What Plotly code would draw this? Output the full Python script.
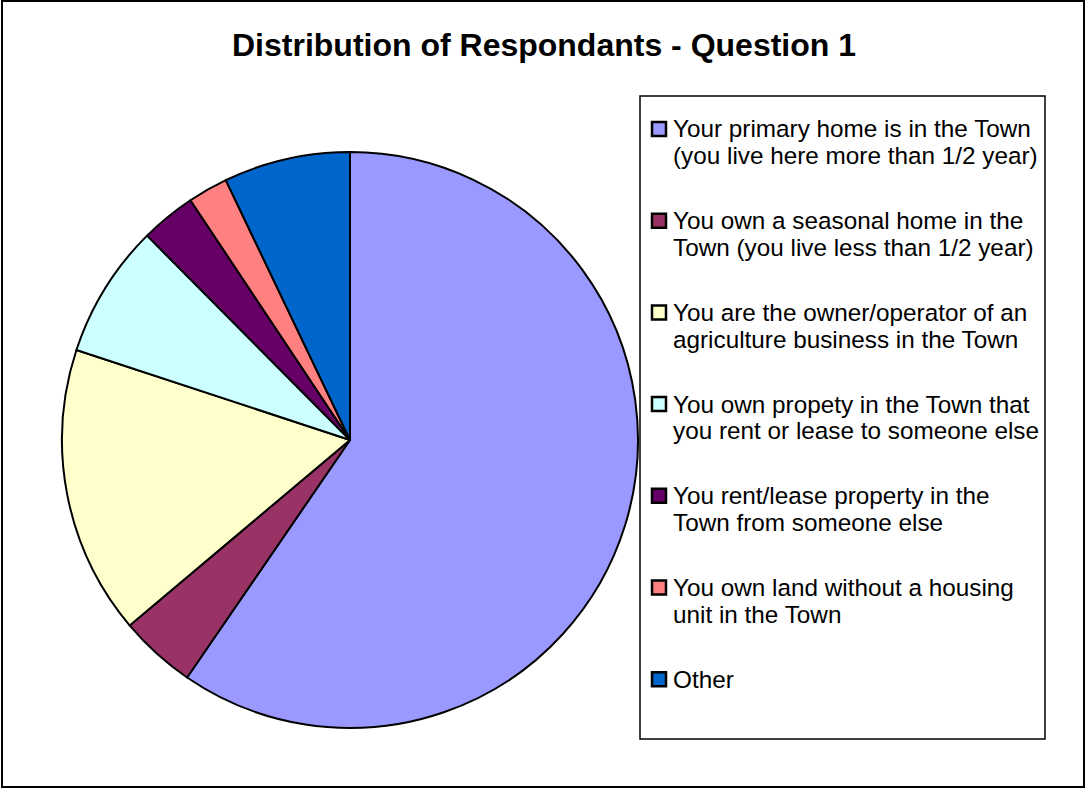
import plotly.graph_objects as go

# ---- data ----
labels = [
    "Your primary home is in the Town<br>(you live here more than 1/2 year)",
    "You own a seasonal home in the<br>Town (you live less than 1/2 year)",
    "You are the owner/operator of an<br>agriculture business in the Town",
    "You own propety in the Town that<br>you rent or lease to someone else",
    "You rent/lease property in the<br>Town from someone else",
    "You own land without a housing<br>unit in the Town",
    "Other",
]
values = [59.6, 4.3, 16.2, 7.5, 3.1, 2.25, 7.1]
colors = ["#9999FF", "#993366", "#FFFFCC", "#CCFFFF", "#660066", "#FF8080", "#0066CC"]
title_text = "Distribution of Respondants - Question 1"

W, H = 1087, 789
FONT = "Arial, Liberation Sans, sans-serif"


def px(x):
    return x / W


def py(y):
    return 1 - y / H


fig = go.Figure()
fig.add_trace(go.Pie(
    labels=[l.replace("<br>", " ") for l in labels],
    values=values,
    sort=False,
    direction="clockwise",
    rotation=0,
    marker=dict(colors=colors, line=dict(color="black", width=2)),
    textinfo="none",
    showlegend=False,
    domain=dict(x=[px(62), px(638)], y=[py(728), py(152)]),
))

shapes = []
annotations = []

# outer chart border
shapes.append(dict(type="rect", xref="paper", yref="paper",
                   x0=px(2), x1=px(1084), y0=py(787), y1=py(1),
                   line=dict(color="black", width=2), fillcolor="rgba(0,0,0,0)"))
# legend box
shapes.append(dict(type="rect", xref="paper", yref="paper",
                   x0=px(640), x1=px(1045), y0=py(739), y1=py(96),
                   line=dict(color="black", width=1.5), fillcolor="rgba(0,0,0,0)"))

entry_top = 129.0
entry_step = 91.7
line_step = 26.7
for i, (lab, col) in enumerate(zip(labels, colors)):
    yc = entry_top + i * entry_step
    shapes.append(dict(type="rect", xref="paper", yref="paper",
                       x0=px(652), x1=px(666), y0=py(yc + 7), y1=py(yc - 7),
                       line=dict(color="black", width=2.5), fillcolor=col))
    for j, part in enumerate(lab.split("<br>")):
        annotations.append(dict(
            xref="paper", yref="paper", x=px(672), y=py(yc + j * line_step),
            xanchor="left", yanchor="middle", text=part, showarrow=False,
            font=dict(family=FONT, size=24.3, color="black"), borderpad=0,
        ))

annotations.append(dict(
    xref="paper", yref="paper", x=0.5, y=py(45), xanchor="center", yanchor="middle",
    text="<b>" + title_text + "</b>", showarrow=False,
    font=dict(family=FONT, size=32, color="black"),
))

fig.update_layout(
    width=W, height=H,
    margin=dict(l=0, r=0, t=0, b=0),
    paper_bgcolor="white", plot_bgcolor="white",
    shapes=shapes, annotations=annotations,
)

fig.write_html("out.html", config={"displayModeBar": False},
               post_script="document.body.style.margin='0';")
